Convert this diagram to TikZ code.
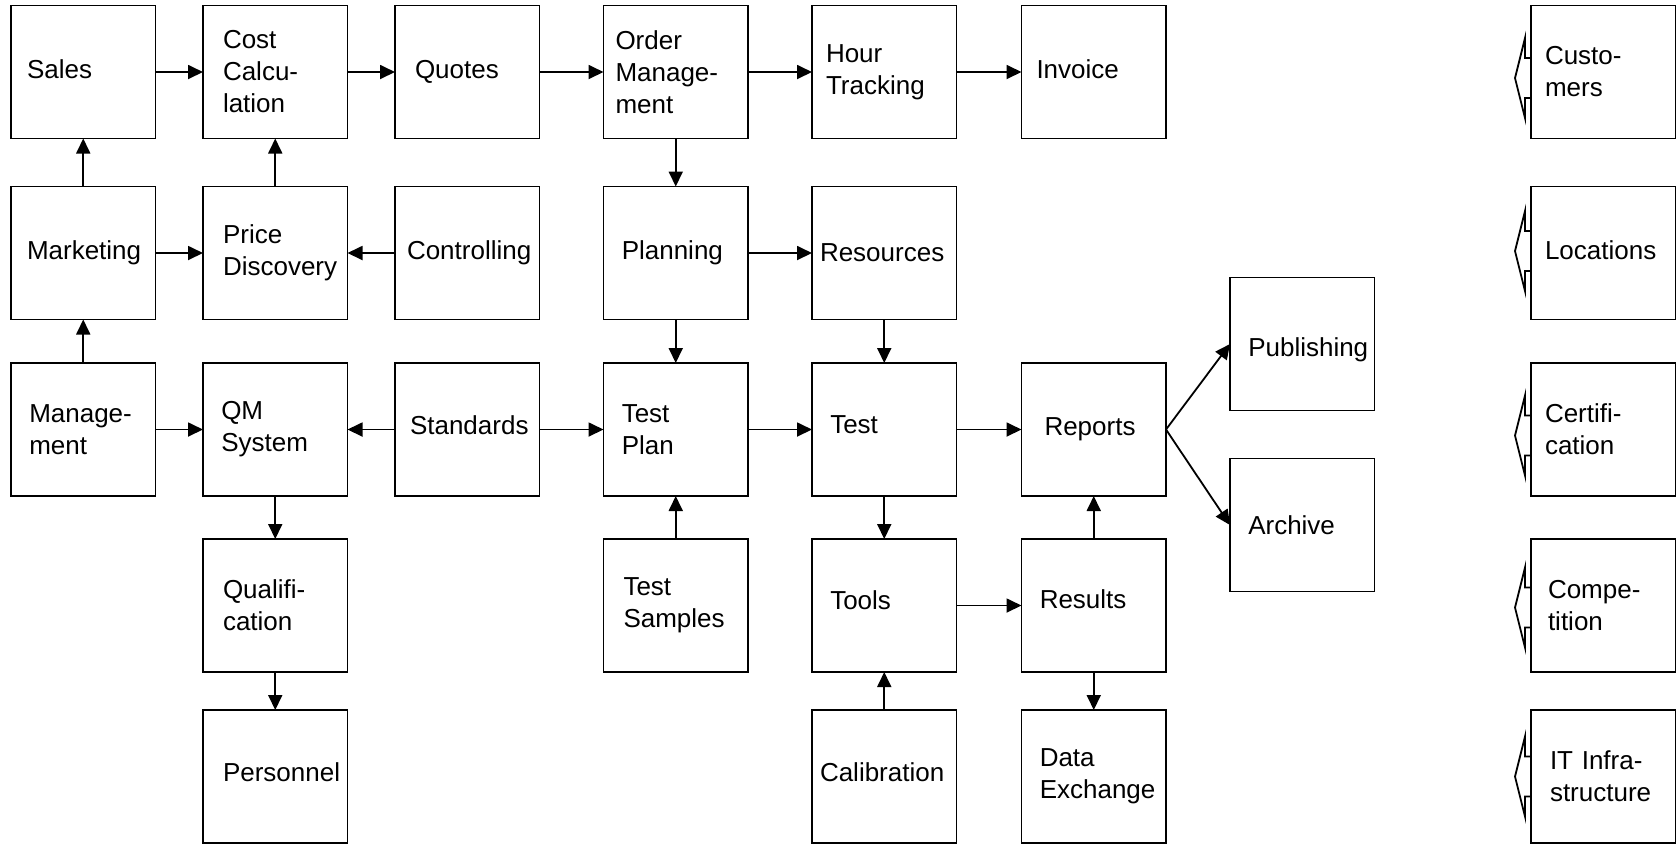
\documentclass[tikz,border=0pt]{standalone}
\usepackage{fontspec}
\setmainfont{Liberation Sans}
\usetikzlibrary{positioning, arrows.meta}
\hyphenpenalty=10000
\exhyphenpenalty=10000

\begin{document}
\begin{tikzpicture}[
    font=\fontsize{13pt}{16pt}\selectfont,
    block/.style={draw, line width=0.9pt, minimum width=72.25pt, minimum height=66.5pt,
      inner sep=0pt, outer sep=0pt, align=left, text width=54pt},
    flow/.style={line width=0.9pt, -{Triangle[length=7.5pt, width=7pt]}},
    hollow/.style={draw, line width=0.9pt, line join=miter}]

  \useasboundingbox (0,0) rectangle (839pt,-421.5pt);

  % first row
  \node[block, text width=56.25pt, text depth=3pt] at (41.625pt,-36pt) (sales) {Sales};
  \node[block, text width=52.25pt, right=23.75pt of sales] (cost) {Cost\\Calcu-\\lation};
  \node[block, text width=52.25pt, right=23.75pt of cost] (quotes) {Quotes};
  \node[block, text width=60.25pt, right=32pt of quotes] (order) {Order\\Manage-\\ment};
  \node[block, text width=58.25pt, right=32pt of order] (hours) {Hour\\Tracking};
  \node[block, text width=57.25pt, text depth=3pt, right=32.5pt of hours] (invoice) {Invoice};
  \node[block, text width=58.25pt, right=182.5pt of invoice] (customers) {Custo-\\mers};

  % second row
  \node[block, text width=56.25pt, below=24pt of sales] (marketing) {Marketing};
  \node[block, text width=52.25pt, right=23.75pt of marketing] (price) {Price\\Discovery};
  \node[block, text width=60.25pt, right=23.75pt of price] (controlling) {Controlling};
  \node[block, below=24pt of order] (planning) {Planning};
  \node[block, text width=64.25pt, below=24pt of hours] (resources) {Resources};
  \node[block, text width=58.25pt, text depth=3pt, below=24pt of customers] (locations) {Locations};

  % third row
  \node[block, below=21.75pt of marketing] (management) {Manage-\\ment};
  \node[block, right=23.75pt of management] (qm) {QM\\System};
  \node[block, text width=57.25pt, text depth=4pt, right=23.75pt of qm] (standards) {Standards};
  \node[block, below=21.75pt of planning] (testplan) {Test\\Plan};
  \node[block, text depth=5pt, below=21.75pt of resources] (test) {Test};
  \node[block, text width=49.25pt, right=32.5pt of test] (reports) {Reports};
  \node[block, text width=58.25pt, below=21.75pt of locations] (certification) {Certifi-\\cation};
  \node[block, text height=15.5pt, right=32pt of reports, yshift=42.75pt] (publishing) {Publishing};
  \node[block, right=32pt of reports, yshift=-47.75pt] (archive) {Archive};

  % fourth row
  \node[block, text width=52.25pt, below=21.5pt of qm] (qualification) {Qualifi-\\cation};
  \node[block, text width=52.25pt, below=21.5pt of testplan] (samples) {Test\\Samples};
  \node[block, text depth=5pt, below=21.5pt of test] (tools) {Tools};
  \node[block, text depth=6pt, below=21.5pt of reports] (results) {Results};
  \node[block, text width=55.25pt, below=21.5pt of certification] (competition) {Compe-\\tition};

  % fifth row
  \node[block, text width=52.25pt, text depth=4pt, below=19pt of qualification] (personnel) {Personnel};
  \node[block, text width=64.25pt, text depth=4pt, below=19pt of tools] (calibration) {Calibration};
  \node[block, below=19pt of results] (exchange) {Data\\Exchange};
  \node[block, text width=53.25pt, below=19pt of competition] (itinfra) {IT Infra-\\structure};

  % flows
  \draw[flow] (sales) -- (cost);
  \draw[flow] (cost) -- (quotes);
  \draw[flow] (quotes) -- (order);
  \draw[flow] (order) -- (hours);
  \draw[flow] (hours) -- (invoice);
  \draw[flow] (marketing) -- (sales);
  \draw[flow] (price) -- (cost);
  \draw[flow] (order) -- (planning);
  \draw[flow] (marketing) -- (price);
  \draw[flow] (controlling) -- (price);
  \draw[flow] (planning) -- (resources);
  \draw[flow] (management) -- (marketing);
  \draw[flow] (planning) -- (testplan);
  \draw[flow] (resources) -- (test);
  \draw[flow] (management) -- (qm);
  \draw[flow] (standards) -- (qm);
  \draw[flow] (standards) -- (testplan);
  \draw[flow] (testplan) -- (test);
  \draw[flow] (test) -- (reports);
  \draw[flow] (reports.east) -- (publishing.west);
  \draw[flow] (reports.east) -- (archive.west);
  \draw[flow] (qm) -- (qualification);
  \draw[flow] (samples) -- (testplan);
  \draw[flow] (test) -- (tools);
  \draw[flow] (results) -- (reports);
  \draw[flow] (tools) -- (results);
  \draw[flow] (qualification) -- (personnel);
  \draw[flow] (calibration) -- (tools);
  \draw[flow] (results) -- (exchange);

  % outside influences
  \draw[hollow] (customers.west) ++(0,7pt) -| ++(-3pt,10pt) -- ++(-5pt,-20pt) -- ++(5pt,-20pt) |- ++(3pt,10pt);
  \draw[hollow] (locations.west) ++(0,11pt) -| ++(-3pt,10pt) -- ++(-5pt,-20pt) -- ++(5pt,-20pt) |- ++(3pt,10pt);
  \draw[hollow] (certification.west) ++(0,7pt) -| ++(-3pt,10pt) -- ++(-5pt,-20pt) -- ++(5pt,-20pt) |- ++(3pt,10pt);
  \draw[hollow] (competition.west) ++(0,9pt) -| ++(-3pt,10pt) -- ++(-5pt,-20pt) -- ++(5pt,-20pt) |- ++(3pt,10pt);
  \draw[hollow] (itinfra.west) ++(0,10pt) -| ++(-3pt,10pt) -- ++(-5pt,-20pt) -- ++(5pt,-20pt) |- ++(3pt,10pt);
\end{tikzpicture}
\end{document}
